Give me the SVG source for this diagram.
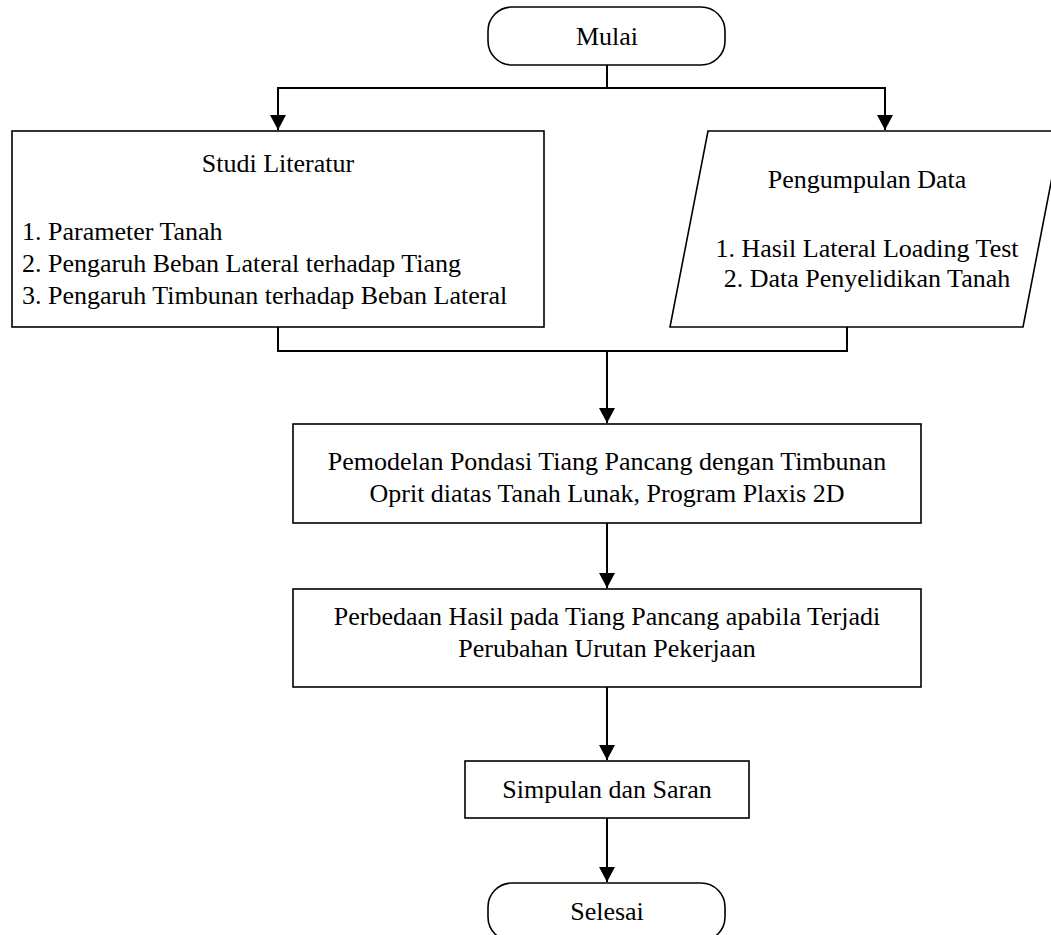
<svg xmlns="http://www.w3.org/2000/svg" width="1051" height="935" viewBox="0 0 1051 935">
<defs>
<style>
.box{fill:#fff;stroke:#000;stroke-width:1.6}
.t{font-family:"Liberation Serif","Times New Roman",serif;font-size:26px;fill:#000}
.c{text-anchor:middle}
.ln{fill:none;stroke:#000;stroke-width:2}
</style>
<marker id="ah" markerWidth="15" markerHeight="16" refX="15" refY="8" orient="auto" markerUnits="userSpaceOnUse">
<path d="M0,0 L15,8 L0,16 Z" fill="#000"/>
</marker>
</defs>
<rect width="1051" height="935" fill="#fff"/>
<g id="connectors">
<path class="ln" d="M607,65 V88"/>
<path class="ln" d="M607,88 H278 V130" marker-end="url(#ah)"/>
<path class="ln" d="M607,88 H885 V130" marker-end="url(#ah)"/>
<path class="ln" d="M278,327 V351 H847 V327"/>
<path class="ln" d="M607,351 V423" marker-end="url(#ah)"/>
<path class="ln" d="M607,523 V588" marker-end="url(#ah)"/>
<path class="ln" d="M607,687 V760" marker-end="url(#ah)"/>
<path class="ln" d="M607,818 V882" marker-end="url(#ah)"/>
</g>
<g id="mulai">
<rect class="box" x="488" y="7" width="237" height="58" rx="24" ry="24"/>
<text class="t c" x="607" y="45">Mulai</text>
</g>
<g id="studi-literatur">
<rect class="box" x="12" y="131" width="532" height="196"/>
<text class="t c" x="278" y="172">Studi Literatur</text>
<text class="t" x="22" y="240">1. Parameter Tanah</text>
<text class="t" x="22" y="272">2. Pengaruh Beban Lateral terhadap Tiang</text>
<text class="t" x="22" y="304">3. Pengaruh Timbunan terhadap Beban Lateral</text>
</g>
<g id="pengumpulan-data">
<polygon class="box" points="708,131 1061,131 1023,327 670,327"/>
<text class="t c" x="867" y="188">Pengumpulan Data</text>
<text class="t c" x="867" y="257">1. Hasil Lateral Loading Test</text>
<text class="t c" x="867" y="287">2. Data Penyelidikan Tanah</text>
</g>
<g id="pemodelan">
<rect class="box" x="293" y="424" width="628" height="99"/>
<text class="t c" x="607" y="470">Pemodelan Pondasi Tiang Pancang dengan Timbunan</text>
<text class="t c" x="607" y="502">Oprit diatas Tanah Lunak, Program Plaxis 2D</text>
</g>
<g id="perbedaan">
<rect class="box" x="293" y="589" width="628" height="98"/>
<text class="t c" x="607" y="625">Perbedaan Hasil pada Tiang Pancang apabila Terjadi</text>
<text class="t c" x="607" y="657">Perubahan Urutan Pekerjaan</text>
</g>
<g id="simpulan">
<rect class="box" x="465" y="761" width="284" height="57"/>
<text class="t c" x="607" y="798">Simpulan dan Saran</text>
</g>
<g id="selesai">
<rect class="box" x="488" y="883" width="237" height="58" rx="24" ry="24"/>
<text class="t c" x="607" y="920">Selesai</text>
</g>
</svg>
